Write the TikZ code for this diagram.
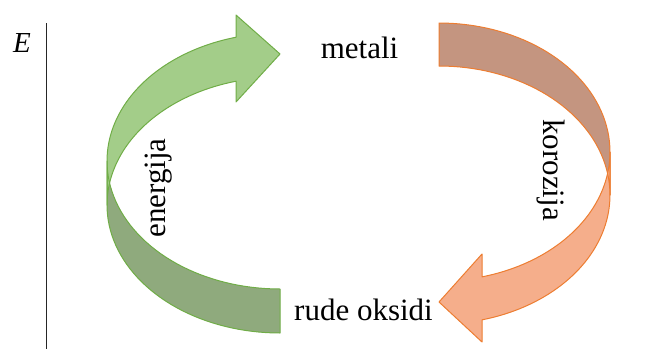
\documentclass[tikz,border=0pt]{standalone}
\usepackage{fontspec}
\setmainfont{Liberation Serif}
\definecolor{gLight}{HTML}{A3CD89}
\definecolor{gDark}{HTML}{8FAA7D}
\definecolor{gLine}{HTML}{70AD47}
\definecolor{oLight}{HTML}{F5AE8B}
\definecolor{oDark}{HTML}{C49580}
\definecolor{oLine}{HTML}{ED7D31}
\begin{document}
\begin{tikzpicture}[x=1pt,y=-1pt,
  lbl/.style={font=\fontsize{31}{36}\selectfont, inner sep=0pt, anchor=base},
  outl/.style={line width=1pt, line join=round},
  smp/.style={samples=40, variable=\t}]
\useasboundingbox (0,0) rectangle (662,349);
% green curved arrow
\path[save path=\gback]
  (107,161) -- plot[smp, domain=180:270] ({280+173*cos(\t)},{161-128*sin(\t)})
  -- (280,333) -- plot[smp, domain=270:180] ({280+173*cos(\t)},{205-128*sin(\t)}) -- cycle;
\path[save path=\gfront]
  plot[smp, domain=180:104.7] ({280+173*cos(\t)},{161-128*sin(\t)})
  -- (236,15) -- (280,54) -- (236,102)
  -- plot[smp, domain=104.7:180] ({280+173*cos(\t)},{205-128*sin(\t)}) -- cycle;
% orange curved arrow
\path[save path=\oback]
  plot[smp, domain=90:0] ({439+171*cos(\t)},{152-129*sin(\t)})
  -- plot[smp, domain=0:90] ({439+171*cos(\t)},{195-129*sin(\t)}) -- cycle;
\path[save path=\ofront]
  plot[smp, domain=0:-75.4] ({439+171*cos(\t)},{152-129*sin(\t)})
  -- (482,254) -- (439,302) -- (482,342)
  -- plot[smp, domain=-75.4:0] ({439+171*cos(\t)},{195-129*sin(\t)}) -- cycle;
\fill[gDark, use path=\gback];
\fill[gLight, use path=\gfront];
\draw[gLine, outl, use path=\gback];
\draw[gLine, outl, use path=\gfront];
\fill[oDark, use path=\oback];
\fill[oLight, use path=\ofront];
\draw[oLine, outl, use path=\oback];
\draw[oLine, outl, use path=\ofront];
% energy axis
\coordinate (axtop) at (46.5,23);
\coordinate (axbot) at (46.5,349);
\draw[line width=1.5pt, black!85] (axtop) -- (axbot);
\node[lbl, font=\fontsize{29}{34}\selectfont\itshape] (E) at (22,52) {E};
% labels
\node[lbl] (metal) at (359.5,58) {metali};
\node[lbl] (ore) at (363.5,320) {rude oksidi};
\node[lbl, rotate=90] (energy) at (165,188) {energija};
\node[lbl, rotate=-90] (corr) at (543,170) {korozija};
\end{tikzpicture}
\end{document}
